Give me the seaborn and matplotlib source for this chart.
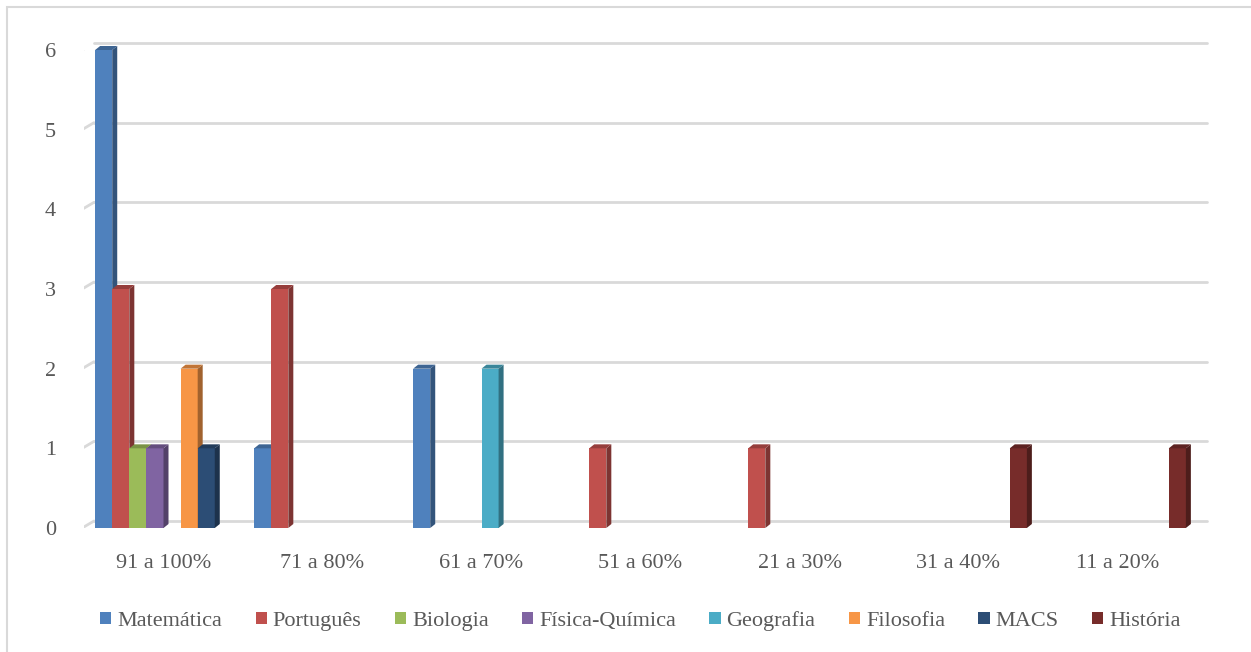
import matplotlib
matplotlib.use("Agg")
import matplotlib.pyplot as plt
import matplotlib.transforms as mtransforms
from matplotlib.patches import Polygon, Rectangle
import seaborn as sns
import pandas as pd
import numpy as np

faixas = ["91 a 100%", "71 a 80%", "61 a 70%", "51 a 60%", "21 a 30%", "31 a 40%", "11 a 20%"]
disciplinas = ["Matemática", "Português", "Biologia", "Física-Química",
               "Geografia", "Filosofia", "MACS", "História"]
matematica = [6, 1, 2, 0, 0, 0, 0]
portugues = [3, 3, 0, 1, 1, 0, 0]
biologia = [1, 0, 0, 0, 0, 0, 0]
fisica_quimica = [1, 0, 0, 0, 0, 0, 0]
geografia = [0, 0, 2, 0, 0, 0, 0]
filosofia = [2, 0, 0, 0, 0, 0, 0]
macs = [1, 0, 0, 0, 0, 0, 0]
historia = [0, 0, 0, 0, 0, 1, 1]

cores = ["#4F81BD", "#C0504D", "#9BBB59", "#8064A2",
         "#4BACC6", "#F79646", "#2C4D75", "#772C2A"]

series = [matematica, portugues, biologia, fisica_quimica,
          geografia, filosofia, macs, historia]
linhas = []
for nome, valores in zip(disciplinas, series):
    for faixa, v in zip(faixas, valores):
        linhas.append({"faixa": faixa, "disciplina": nome, "valor": v})
df = pd.DataFrame(linhas)

sns.set_style("white")
plt.rcParams['font.family'] = ['Liberation Serif', 'DejaVu Serif']
cinza = "#595959"
tam = 16

fig = plt.figure(figsize=(12.51, 6.52), dpi=100)
W, H = 1251, 652
ax = fig.add_axes([84 / W, 1 - 528 / H, (1197 - 84) / W, (528 - 50) / H])

sns.barplot(data=df, x="faixa", y="valor", hue="disciplina", order=faixas,
            hue_order=disciplinas, palette=cores, width=0.86, linewidth=0,
            saturation=1, ax=ax)

ax.set_xlim(-0.5, len(faixas) - 0.5)
ax.set_ylim(0, 6)
ax.set_yticks(range(0, 7))
ax.set_xlabel("")
ax.set_ylabel("")
for s in ax.spines.values():
    s.set_visible(False)
ax.tick_params(axis="both", length=0, labelsize=tam, labelcolor=cinza)
ax.tick_params(axis="y", pad=20)
ax.tick_params(axis="x", pad=19)

# gridlines on the back wall (3D offset) plus diagonal stubs on the side wall
off = mtransforms.ScaledTranslation(10 / 100, 7 / 100, fig.dpi_scale_trans)
recuo = mtransforms.ScaledTranslation(-7 / 100, -3 / 100, fig.dpi_scale_trans)
ytrans = ax.get_yaxis_transform()
for y in range(0, 7):
    ax.plot([0, 1], [y, y], transform=ytrans + off, color="#D9D9D9", lw=2, zorder=1,
            clip_on=False)
    p0 = (ytrans + recuo).transform((0, y))
    p1 = (ytrans + off).transform((0, y))
    ax.add_line(plt.Line2D([p0[0], p1[0]], [p0[1], p1[1]], transform=None,
                           color="#D9D9D9", lw=2, zorder=1))

# 3D side and top faces; bars further right sit in front
fig.canvas.draw()
inv = ax.transData.inverted()
o = ax.transData.transform((0, 0))
d = inv.transform((o[0] + 5, o[1] + 4))
dx, dy = d[0], d[1]
barras = [p for p in ax.patches if p.get_height() > 0]
barras.sort(key=lambda p: p.get_x())
for i, patch in enumerate(barras):
    h = patch.get_height()
    x0 = patch.get_x()
    x1 = x0 + patch.get_width()
    z = 5 + i * 0.01
    patch.set_zorder(z)
    cor = np.array(patch.get_facecolor()[:3])
    lado = Polygon([(x1, 0), (x1, h), (x1 + dx, h + dy), (x1 + dx, dy)],
                   closed=True, facecolor=cor * 0.65, linewidth=0, zorder=z,
                   clip_on=False)
    topo = Polygon([(x0, h), (x0 + dx, h + dy), (x1 + dx, h + dy), (x1, h)],
                   closed=True, facecolor=cor * 0.78, linewidth=0, zorder=z,
                   clip_on=False)
    ax.add_patch(lado)
    ax.add_patch(topo)

handles, labels = ax.get_legend_handles_labels()
ax.legend(handles, labels, loc="center",
          bbox_to_anchor=(0.5, (1 - 621 / H - (1 - 528 / H)) / ((528 - 50) / H)),
          ncol=8, frameon=False, fontsize=tam, handlelength=0.5, handleheight=0.5,
          handletextpad=0.27, columnspacing=1.5, labelcolor=cinza)

fig.patches.append(Rectangle((7 / W, -0.1), 1.2, 1 - 7 / H + 0.1, transform=fig.transFigure,
                             fill=False, edgecolor="#D9D9D9", linewidth=1.5))

fig.savefig("out.png", dpi=100)
